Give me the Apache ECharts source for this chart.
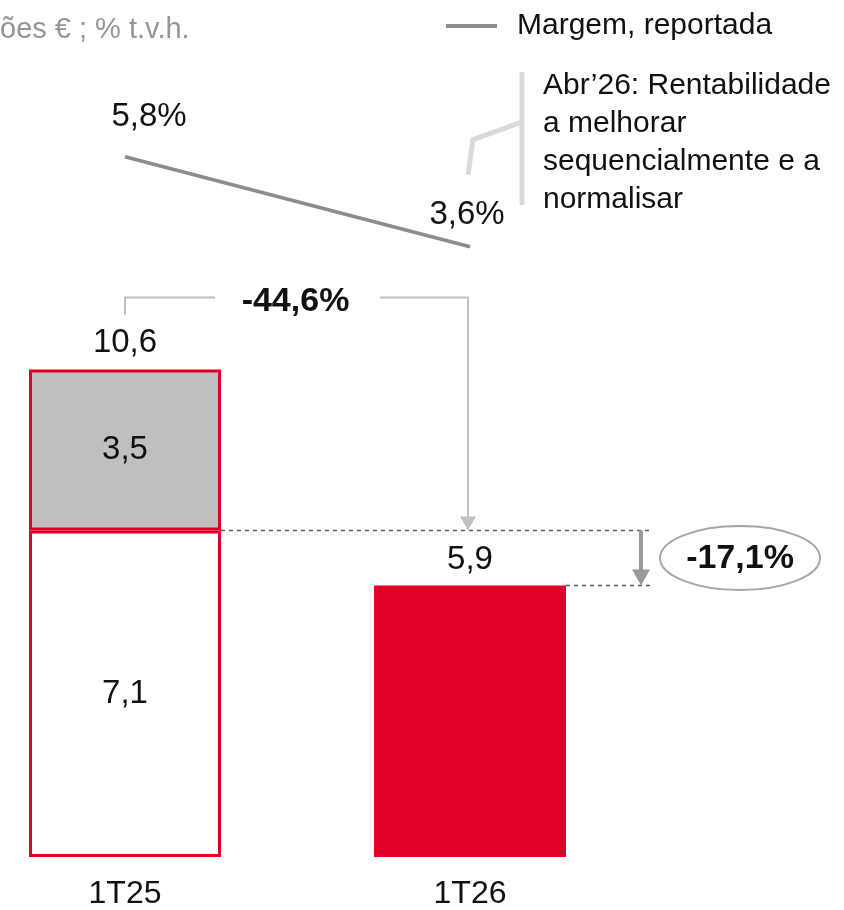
<!DOCTYPE html>
<html>
<head>
<meta charset="utf-8">
<script src="https://cdn.jsdelivr.net/npm/echarts@6/dist/echarts.min.js"></script>
<style>
  html, body { margin: 0; padding: 0; background: #fff; }
  #chart { width: 844px; height: 910px; }
</style>
</head>
<body>
<div id="chart"></div>
<script>
// dados
const categories = ["1T25", "1T26"];
const baseValues = [7.1, 5.9];
const extraValues = [3.5, null];
const totalValues = [10.6, null];
const marginValues = [5.8, 3.6];
const marginName = "Margem, reportada";
const changeTotal = "-44,6%";
const changeBase = "-17,1%";
const unitText = "ões € ; % t.v.h.";
const noteText = "Abr’26: Rentabilidade\na melhorar\nsequencialmente e a\nnormalisar";

const RED = "#e00025";
const LINE_GREY = "#8c8c8c";
const font = "'Liberation Sans', Arial, sans-serif";
const fmt = (v) => String(v).replace(".", ",");

const chart = echarts.init(document.getElementById("chart"));

const option = {
  animation: false,
  textStyle: { fontFamily: font },
  title: {
    text: unitText,
    left: 0,
    top: 15,
    padding: 0,
    textStyle: { fontFamily: font, fontSize: 29, fontWeight: "normal", color: "#959595" },
  },
  // grelha 0: barras ; grelha 1: margem
  grid: [
    { left: 125, width: 345, top: 305, height: 554 },
    { left: 125, width: 345, top: 0, height: 394 },
  ],
  xAxis: [
    {
      type: "category",
      gridIndex: 0,
      boundaryGap: false,
      data: categories,
      axisLine: { show: false },
      axisTick: { show: false },
      axisLabel: { margin: 21, fontFamily: font, fontSize: 32, color: "#111" },
    },
    { type: "category", gridIndex: 1, boundaryGap: false, data: categories, show: false },
  ],
  yAxis: [
    { type: "value", gridIndex: 0, min: 0, max: 12, show: false },
    { type: "value", gridIndex: 1, min: 0, max: 9.63, show: false },
  ],
  series: [
    {
      name: "base",
      type: "bar",
      stack: "t",
      barWidth: 192,
      label: { show: true, fontFamily: font, fontSize: 33, color: "#111", formatter: (p) => fmt(p.value) },
      data: baseValues.map((v, i) =>
        i === 0
          ? { value: v, itemStyle: { color: "#fff", borderColor: RED, borderWidth: 3 }, label: { position: "inside" } }
          : { value: v, itemStyle: { color: RED }, label: { position: "top", distance: 9 } }
      ),
    },
    {
      name: "extra",
      type: "bar",
      stack: "t",
      barWidth: 192,
      itemStyle: { color: "#bfbfbf", borderColor: RED, borderWidth: 3 },
      label: { show: true, position: "inside", fontFamily: font, fontSize: 33, color: "#111", formatter: (p) => fmt(p.value) },
      data: extraValues.map((v) => (v == null ? "-" : v)),
    },
    {
      name: "total",
      type: "bar",
      stack: "t",
      barWidth: 192,
      itemStyle: { color: "transparent" },
      label: {
        show: true,
        position: "top",
        distance: 10,
        fontFamily: font,
        fontSize: 33,
        color: "#111",
        formatter: (p) => fmt(totalValues[p.dataIndex]),
      },
      data: totalValues.map((v) => (v == null ? "-" : 0)),
    },
    {
      name: marginName,
      type: "line",
      xAxisIndex: 1,
      yAxisIndex: 1,
      color: LINE_GREY,
      symbolSize: 0,
      lineStyle: { color: LINE_GREY, width: 3.5 },
      label: { show: true, position: "top", distance: 26, fontFamily: font, fontSize: 33, color: "#111", formatter: (p) => fmt(p.value) + "%" },
      data: [
        { value: marginValues[0], label: { offset: [24, 3] } },
        { value: marginValues[1], label: { offset: [-3, 11] } },
      ],
    },
  ],
};

chart.setOption(option);

// anotações posicionadas a partir das escalas
const pt = (i, v) => chart.convertToPixel({ gridIndex: 0 }, [i, v]);
const top1 = pt(0, totalValues[0]);
const mid = pt(0, baseValues[0]);
const top2 = pt(1, baseValues[1]);
const mPt = chart.convertToPixel({ gridIndex: 1 }, [1, marginValues[1]]);
const half = 96;
const x0 = top1[0], x1 = top2[0] - 2;
const yBr = top1[1] - 72;
const midY = mid[1], b2Y = top2[1];
const ax = 641;
const grey = "#c0c0c0";
const noteX = 522;

chart.setOption({
  graphic: [
    // legenda
    { type: "line", shape: { x1: 446, y1: 26, x2: 497, y2: 26 }, style: { stroke: LINE_GREY, lineWidth: 4 } },
    { type: "text", x: 517, y: 26, style: { text: marginName, fontFamily: font, fontSize: 30, fill: "#111", verticalAlign: "middle" } },
    // chaveta -44,6%
    { type: "polyline", shape: { points: [[x0, top1[1] - 55], [x0, yBr], [x0 + 90, yBr]] }, style: { stroke: grey, lineWidth: 2, fill: null } },
    { type: "polyline", shape: { points: [[x1 - 88, yBr], [x1, yBr], [x1, midY - 12]] }, style: { stroke: grey, lineWidth: 2, fill: null } },
    { type: "polygon", shape: { points: [[x1 - 8, midY - 14], [x1 + 8, midY - 14], [x1, midY]] }, style: { fill: grey } },
    { type: "text", x: (x0 + x1) / 2 - 1, y: yBr + 4, style: { text: changeTotal, fontFamily: font, fontSize: 34, fontWeight: "bold", fill: "#111", align: "center", verticalAlign: "middle" } },
    // linhas tracejadas
    { type: "line", shape: { x1: x0 + half, y1: midY, x2: 650, y2: midY }, style: { stroke: "#595959", lineWidth: 1.5, lineDash: [4, 4] } },
    { type: "line", shape: { x1: top2[0] + half, y1: b2Y, x2: 650, y2: b2Y }, style: { stroke: "#595959", lineWidth: 1.5, lineDash: [4, 4] } },
    // seta -17,1%
    { type: "line", shape: { x1: ax, y1: midY, x2: ax, y2: b2Y - 14 }, style: { stroke: "#999", lineWidth: 4 } },
    { type: "polygon", shape: { points: [[ax - 9, b2Y - 16], [ax + 9, b2Y - 16], [ax, b2Y]] }, style: { fill: "#999" } },
    { type: "ellipse", shape: { cx: 740, cy: (midY + b2Y) / 2, rx: 80, ry: 32 }, style: { stroke: "#a6a6a6", lineWidth: 2, fill: "#fff" } },
    { type: "text", x: 740, y: (midY + b2Y) / 2 + 1, style: { text: changeBase, fontFamily: font, fontSize: 34, fontWeight: "bold", fill: "#111", align: "center", verticalAlign: "middle" } },
    // nota
    { type: "line", shape: { x1: noteX, y1: 72, x2: noteX, y2: 205 }, style: { stroke: "#d9d9d9", lineWidth: 5 } },
    { type: "polyline", shape: { points: [[noteX, 122], [mPt[0] + 3, mPt[1] - 107], [mPt[0] - 2, mPt[1] - 72]] }, style: { stroke: "#d9d9d9", lineWidth: 5, fill: null } },
    { type: "text", x: 543, y: 67, style: { text: noteText, fontFamily: font, fontSize: 30, lineHeight: 38, fill: "#111" } },
  ],
});
</script>
</body>
</html>
